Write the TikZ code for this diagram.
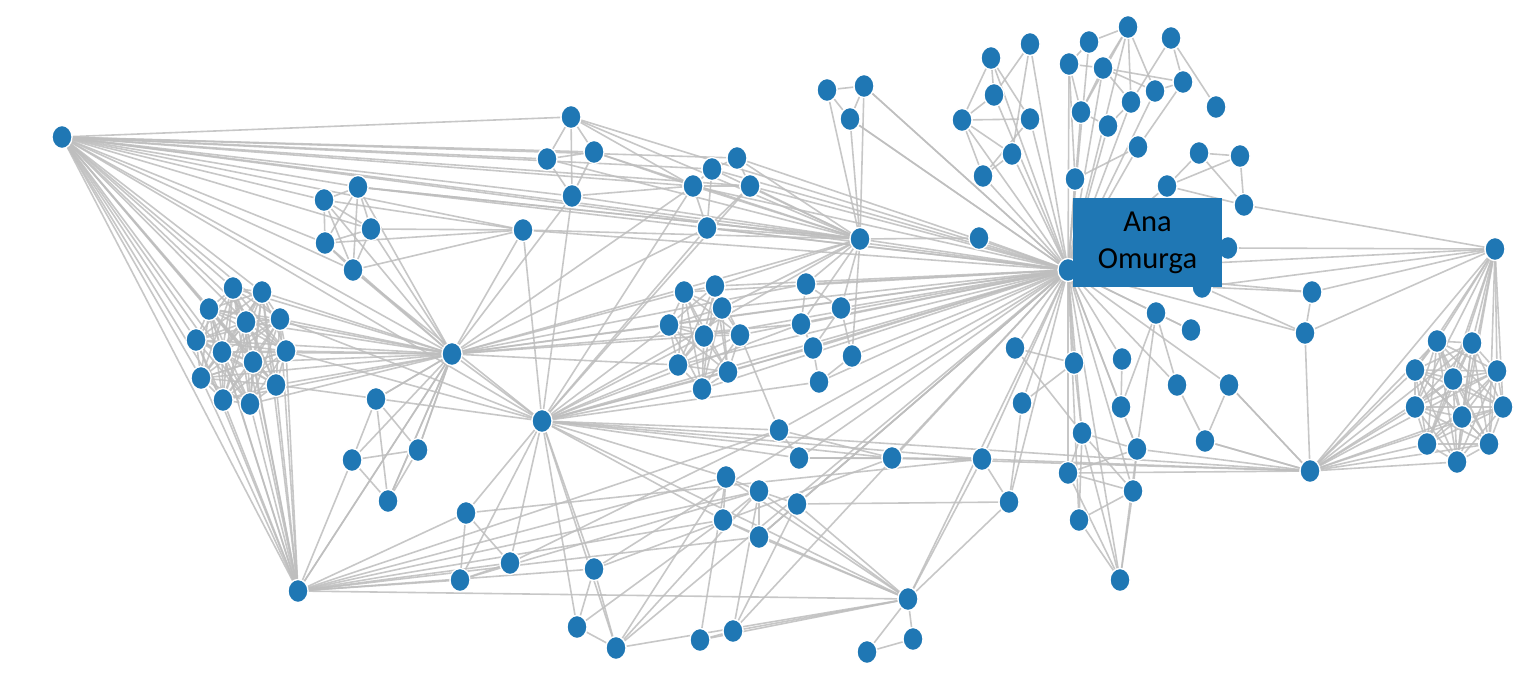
\documentclass[tikz,border=0pt]{standalone}
\usepackage{fontspec}
\newfontfamily\boxfont{Carlito}
\usetikzlibrary{shapes.geometric,backgrounds}
\definecolor{nodeblue}{RGB}{31,119,180}
\definecolor{edgegray}{RGB}{190,190,190}
\tikzset{
  vtx/.style={ellipse,minimum width=20pt,minimum height=23pt,inner sep=0pt,fill=nodeblue,draw=white,line width=1.3pt},
  edge/.style={draw=edgegray,line width=1.6pt,opacity=0.85},
  labelbox/.style={rectangle,fill=nodeblue,minimum width=149pt,minimum height=89pt,inner sep=0pt,align=center,font=\boxfont\fontsize{30.5}{37}\selectfont,text=black}
}
\begin{document}
\begin{tikzpicture}[x=1pt,y=-1pt]
\useasboundingbox (0,0) rectangle (1536,680);
% hubs
\node[vtx] (L) at (62,137) {};
\node[vtx] (A) at (452,354) {};
\node[vtx] (B) at (542,421) {};
\node[vtx] (C) at (860,239) {};
\node[vtx] (H) at (1068,270) {};
\node[vtx] (Ra) at (1495,249) {};
\node[vtx] (Rb) at (1310,471) {};
\node[vtx] (BL) at (298,591) {};
\node[vtx] (BM) at (908,599) {};
% left cluster
\foreach \n/\x/\y in {1/209/309,2/233/288,3/262/292,4/246/322,5/280/319,6/196/340,7/222/352,8/253/362,9/286/351,10/201/378,11/276/385,12/223/400,13/250/404}
  \node[vtx] (l\n) at (\x,\y) {};
% top-left cluster
\foreach \n/\x/\y in {1/324/200,2/358/187,3/371/229,4/325/243,5/353/270}
  \node[vtx] (t\n) at (\x,\y) {};
\node[vtx] (u) at (523,230) {};
% diamond
\foreach \n/\x/\y in {1/571/117,2/547/159,3/594/152,4/572/196}
  \node[vtx] (d\n) at (\x,\y) {};
% e group
\foreach \n/\x/\y in {1/693/186,2/712/169,3/737/158,4/750/186,5/707/228}
  \node[vtx] (e\n) at (\x,\y) {};
% f group
\foreach \n/\x/\y in {1/827/90,2/864/86,3/850/119}
  \node[vtx] (f\n) at (\x,\y) {};
% middle cluster
\foreach \n/\x/\y in {1/684/292,2/715/286,3/722/308,4/669/325,5/704/336,6/740/335,7/678/365,8/728/372,9/702/389}
  \node[vtx] (m\n) at (\x,\y) {};
\foreach \n/\x/\y in {1/806/284,2/841/308,3/801/324,4/813/348,5/852/356,6/819/382}
  \node[vtx] (k\n) at (\x,\y) {};
% below A
\foreach \n/\x/\y in {1/376/399,2/352/460,3/418/450,4/388/501}
  \node[vtx] (a\n) at (\x,\y) {};
% bottom-left group
\foreach \n/\x/\y in {1/466/513,2/510/563,3/460/580,4/594/569,5/577/627,6/616/648}
  \node[vtx] (b\n) at (\x,\y) {};
% bottom-mid group
\foreach \n/\x/\y in {1/779/430,2/799/458,3/726/477,4/759/491,5/723/520,6/797/504,7/759/537,8/892/458,9/913/639,10/867/652,11/700/640,12/733/631}
  \node[vtx] (c\n) at (\x,\y) {};
% top cluster
\foreach \n/\x/\y in {1/991/58,2/1030/44,3/994/95,4/962/120,5/1030/119,6/1012/154,7/983/176,8/1069/64,9/1089/42,10/1128/27,11/1171/38,12/1103/68,13/1131/102,14/1155/91,15/1183/82,16/1081/112,17/1108/126,18/1138/147,19/1216/107,20/1075/179,21/1199/153,22/1240/156,23/1244/205}
  \node[vtx] (g\n) at (\x,\y) {};
\node[vtx] (w) at (979,238) {};
\node[vtx] (x1) at (1167,186) {};
\node[vtx] (x2) at (1228,248) {};
\node[vtx] (x3) at (1202,287) {};
% right middle
\foreach \n/\x/\y in {1/1156/313,2/1191/330,3/1312/292,4/1305/333,5/1015/348,6/1074/363,7/1122/359,8/1022/403,9/1121/407,10/1177/385,11/1229/385,12/1082/433,13/1137/449,14/1205/441,15/1068/473,16/1133/491,17/1009/502,18/1079/520,19/1120/580,20/982/459}
  \node[vtx] (r\n) at (\x,\y) {};
% right cluster
\foreach \n/\x/\y in {1/1437/341,2/1472/343,3/1415/370,4/1453/379,5/1497/371,6/1415/407,7/1462/417,8/1503/407,9/1427/444,10/1489/444,11/1457/462}
  \node[vtx] (s\n) at (\x,\y) {};
% label box
\node[labelbox] (ana) at (1147.5,242.5) {Ana\\Omurga};

\begin{scope}[on background layer]
\fill[white] (0,0) rectangle (1536,680);
% dense clusters
\foreach \i in {1,...,13}{\foreach \j in {1,...,13}{\ifnum\i<\j \draw[edge] (l\i)--(l\j);\fi}}
\foreach \i in {1,...,11}{\foreach \j in {1,...,11}{\ifnum\i<\j \draw[edge] (s\i)--(s\j);\fi}}
\foreach \i in {1,...,9}{\foreach \j in {1,...,9}{\ifnum\i<\j \draw[edge] (m\i)--(m\j);\fi}}
\foreach \i in {1,...,5}{\foreach \j in {1,...,5}{\ifnum\i<\j \draw[edge] (t\i)--(t\j);\fi}}
\foreach \i in {1,...,4}{\foreach \j in {1,...,4}{\ifnum\i<\j \draw[edge] (a\i)--(a\j);\draw[edge] (d\i)--(d\j);\fi}}
\foreach \i in {1,...,3}{\foreach \j in {1,...,3}{\ifnum\i<\j \draw[edge] (f\i)--(f\j);\fi}}
% hub stars
\foreach \i in {1,...,13}{\draw[edge] (L)--(l\i); \draw[edge] (A)--(l\i); \draw[edge] (BL)--(l\i);}
\foreach \i in {1,...,11}{\draw[edge] (Ra)--(s\i); \draw[edge] (Rb)--(s\i);}
\foreach \t in {BL,t1,t2,t3,t4,t5,u,d1,d2,d3,d4,A,B,e1,e2,e3,e4,C,H}
  \draw[edge] (L)--(\t);
\foreach \t in {t1,t2,t3,t4,t5,a1,a2,a3,a4,BL,B,e1,e5,d4,m1,m4,m5,m7,k1,k3,C,H,u}
  \draw[edge] (A)--(\t);
\foreach \t in {u,e1,e4,e5,m4,m5,m7,m8,m9,k3,k4,k6,C,H,b1,b2,b3,b4,b5,b6,c1,c2,c3,c5,c8,BM,r20,Rb,l5,l9,l11,d4}
  \draw[edge] (B)--(\t);
\foreach \t in {a2,b1,b2,b3,b4,c3,c4,c5,c7,BM,c1}
  \draw[edge] (BL)--(\t);
\foreach \t in {c9,c10,c11,c12,c4,c5,c7,c6,c3,r17,r20,H,b6}
  \draw[edge] (BM)--(\t);
\foreach \t in {f1,f2,f3,e1,e2,e3,e4,e5,d1,d3,k1,k2,k3,k5,m2,m3,H,w,t2}
  \draw[edge] (C)--(\t);
\foreach \t in {g1,g2,g3,g4,g5,g6,g7,g8,g9,g10,g12,g13,g14,g16,g17,g18,g20,w,x1,x2,x3,e1,e2,e3,e4,e5,d1,m1,m2,m3,m4,m5,m6,m7,m8,m9,k1,k2,k3,k4,k5,k6,r1,r2,r5,r6,r7,r8,r9,r10,r11,r12,r13,r15,r16,r17,r18,r19,r20,Ra,r3,r4,c1,c2,c6,c7,c8,b4,b6,c12,f2,f3,t2}
  \draw[edge] (H)--(\t);
\foreach \t in {r3,r4,x2,x3,Rb,g23}
  \draw[edge] (Ra)--(\t);
\foreach \t in {r4,r11,r14,r13,r20,c8,r15}
  \draw[edge] (Rb)--(\t);
% misc edges
\foreach \a/\b in {g1/g3,g1/g4,g1/g5,g2/g3,g2/g6,g3/g4,g4/g5,g4/g6,g5/g7,g6/g7,g4/g7,g8/g9,g9/g10,g10/g12,g10/g13,g10/g14,g10/g16,g11/g15,g11/g13,g12/g16,g12/g13,g14/g15,g13/g17,g15/g18,g16/g17,g8/g16,g8/g12,g11/g19,g12/g14,g21/g22,g21/x1,g22/g23,g21/g23,x1/g23,g22/x1,g18/g20,g8/g20,g15/g12,
  r1/r2,r1/r9,r1/r10,r7/r9,r9/r13,r10/r14,r11/r14,r11/Rb,r14/Rb,r5/r6,r5/r12,r8/r6,r12/r13,r12/r15,r12/r16,r12/r18,r13/r15,r13/r16,r15/r16,r16/r18,r18/r19,r16/r19,r12/r19,r15/r19,r13/r19,r20/r17,r3/r4,x3/r3,x3/r4,r8/r17,r1/r13,r6/r12,
  k1/k2,k1/k3,k2/k5,k3/k4,k4/k6,k2/k4,k5/k6,
  d1/e1,d3/e1,d4/e1,d2/C,d4/C,
  e1/e2,e2/e3,e3/e4,e1/e4,e1/e5,e2/e5,e4/e5,
  f2/H,f3/H,
  t1/u,t3/u,t4/u,t5/u,u/C,u/H,t2/C,t5/B,
  a1/A,a3/A,a4/A,BL/A,
  b1/b2,b1/b3,b2/b3,b4/b5,b4/b6,b5/b6,b6/c3,b6/c4,b2/c1,b3/c4,b1/r20,b4/c8,b5/c5,
  c1/c2,c3/c4,c3/c5,c4/c5,c4/c7,c5/c7,c4/c6,c6/c7,c2/c8,c1/c8,c11/c12,c11/c3,c12/c4,c12/c6,c9/c10,c8/r20,c7/H,c1/m6,c2/r20,c6/r17}
  \draw[edge] (\a)--(\b);
\end{scope}
\end{tikzpicture}
\end{document}
